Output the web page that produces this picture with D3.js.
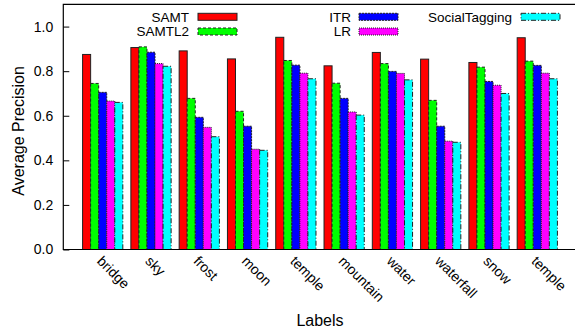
<!DOCTYPE html>
<html><head><meta charset="utf-8">
<script src="https://cdn.jsdelivr.net/npm/d3@7"></script>
<style>body{margin:0;background:#fff}svg{display:block}text{font-family:"Liberation Sans",Arial,sans-serif;fill:#000}</style>
</head><body>
<svg id="c" width="575" height="328"></svg>
<script>
const categories = ["bridge","sky","frost","moon","temple","mountain","water","waterfall","snow","temple"];
const seriesNames = ["SAMT","SAMTL2","ITR","LR","SocialTagging"];
const SAMT   = [0.875,0.906,0.891,0.855,0.952,0.824,0.884,0.854,0.839,0.950];
const SAMTL2 = [0.745,0.909,0.678,0.620,0.848,0.746,0.834,0.669,0.818,0.845];
const ITR    = [0.705,0.885,0.593,0.553,0.827,0.678,0.799,0.553,0.754,0.826];
const LR     = [0.666,0.834,0.548,0.450,0.791,0.617,0.790,0.486,0.737,0.791];
const SocialTagging = [0.660,0.822,0.506,0.445,0.766,0.603,0.761,0.481,0.700,0.766];
const yTicks = [0.0,0.2,0.4,0.6,0.8,1.0];
const values = [SAMT,SAMTL2,ITR,LR,SocialTagging];
const colors = ["#ff0000","#00ff00","#0000ff","#ff00ff","#00ffff"];
const dashes = [null,"3,2","2,1","1,1","5,2,1,2"];

const svg = d3.select("#c");
const L = 63.3, R = 576.7, T = 4.3, B = 249.5;
const x = d3.scaleLinear().domain([-0.816, 9.816]).range([L, R]);
const unit = x(1) - x(0);
const xs = d3.scaleBand().domain(seriesNames).range([-unit*5/12, unit*5/12]).padding(0);
const y = d3.scaleLinear().domain([0, 1.1]).range([B, T]);

// bars
seriesNames.forEach((s, j) => {
  svg.append("g").selectAll("rect").data(values[j]).join("rect")
    .attr("x", (d, i) => x(i) + xs(s))
    .attr("y", d => y(d))
    .attr("width", xs.bandwidth())
    .attr("height", d => y(0) - y(d))
    .attr("fill", colors[j])
    .attr("stroke", "#222")
    .attr("stroke-width", 1)
    .attr("stroke-dasharray", dashes[j]);
});

// frame
svg.append("path").attr("d", `M${R},${T}H${L}V${B}H${R}`).attr("fill","none").attr("stroke","#000").attr("stroke-width",1.2);

// y axis
const yAxis = d3.axisLeft(y).tickValues(yTicks).tickFormat(d3.format(".1f")).tickSize(-6).tickPadding(10);
const gy = svg.append("g").attr("transform", `translate(${L},0)`).call(yAxis);
gy.select(".domain").remove();
gy.selectAll("text").style("font-size","14px").attr("font-family",'"Liberation Sans",Arial,sans-serif');
gy.selectAll("line").attr("stroke","#000");

// x labels
svg.append("g").selectAll("text").data(categories).join("text")
  .attr("transform", (d, i) => `translate(${x(i) - 3},${B + 9}) rotate(45)`)
  .attr("text-anchor", "start")
  .attr("dy", "0.35em")
  .style("font-size", "14px")
  .text(d => d);

// axis titles
svg.append("text").attr("transform", `translate(24,${(T+B)/2 + 4}) rotate(-90)`)
  .attr("text-anchor","middle").style("font-size","16px").text("Average Precision");
svg.append("text").attr("x", (L+R)/2).attr("y", 326)
  .attr("text-anchor","middle").style("font-size","16px").text("Labels");

// legend
const legend = [
  {tx:189, bx:198, by:16.8},
  {tx:189, bx:198, by:31.5},
  {tx:351, bx:359, by:16.8},
  {tx:351, bx:359, by:31.5},
  {tx:512, bx:521, by:16.8}
];
seriesNames.forEach((s, j) => {
  const p = legend[j];
  svg.append("text").attr("x", p.tx).attr("y", p.by).attr("dy","0.35em")
    .attr("text-anchor","end").style("font-size","13.5px").text(s);
  svg.append("rect").attr("x", p.bx).attr("y", p.by - 3.5).attr("width", 39).attr("height", 7)
    .attr("fill", colors[j]).attr("stroke","#222").attr("stroke-width",1).attr("stroke-dasharray", dashes[j]);
});
</script>
</body></html>
